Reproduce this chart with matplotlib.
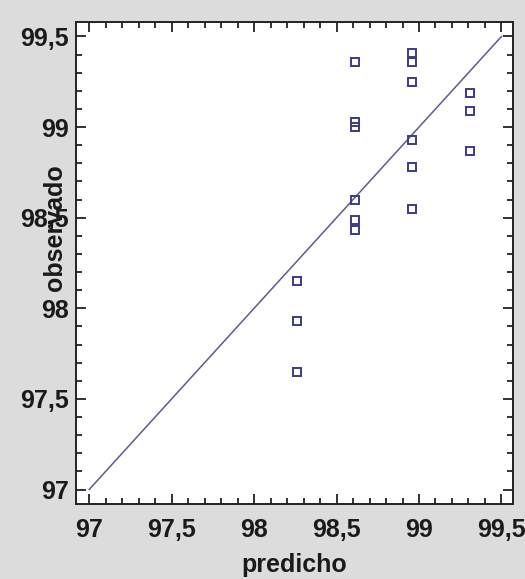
import matplotlib
matplotlib.use("Agg")
import matplotlib.pyplot as plt
from matplotlib.ticker import MultipleLocator, FuncFormatter

# Predicted vs observed values
predicho = [98.26, 98.26, 98.26,
            98.61, 98.61, 98.61, 98.61, 98.61, 98.61,
            98.96, 98.96, 98.96, 98.96, 98.96, 98.96,
            99.31, 99.31, 99.31]
observado = [98.15, 97.93, 97.65,
             99.36, 99.03, 99.00, 98.60, 98.49, 98.43,
             99.41, 99.36, 99.25, 98.93, 98.78, 98.55,
             99.19, 99.09, 98.87]

# Reference line y = x
linea = [97.0, 99.5]

plt.rcParams['font.family'] = ['Liberation Sans', 'DejaVu Sans']

fig = plt.figure(figsize=(5.25, 5.79), dpi=100)
fig.patch.set_facecolor('#dcdcdc')
ax = fig.add_axes([76/525, 75/579, 437/525, 482/579])
ax.set_facecolor('white')

ax.plot(linea, linea, color='#5c5c8e', lw=1.1, zorder=2)
ax.plot(predicho, observado, ls='none', marker='s', ms=5.8,
        mfc='none', mec='#3b3b8c', mew=1.4, zorder=3)

ax.set_xlim(96.92, 99.57)
ax.set_ylim(96.92, 99.58)

for a in (ax.xaxis, ax.yaxis):
    a.set_major_locator(MultipleLocator(0.5))
    a.set_minor_locator(MultipleLocator(0.1))
    a.set_major_formatter(FuncFormatter(
        lambda v, p: ('%g' % round(v, 1)).replace('.', ',')))

ax.tick_params(which='both', direction='in', top=True, right=True,
               width=1.3, color='#222222')
ax.tick_params(which='major', length=7)
ax.tick_params(which='minor', length=4)
ax.tick_params(axis='x', which='major', pad=10, labelsize=18)
ax.tick_params(axis='y', which='major', pad=5, labelsize=18)
for lbl in ax.get_xticklabels() + ax.get_yticklabels():
    lbl.set_fontweight('bold')
    lbl.set_color('#1a1a1a')

for s in ax.spines.values():
    s.set_linewidth(1.4)
    s.set_color('#222222')

ax.set_xlabel('predicho', fontsize=18, fontweight='bold', color='#1a1a1a',
              labelpad=8)
ax.set_ylabel('observado', fontsize=18, fontweight='bold', color='#1a1a1a')
ax.yaxis.set_label_coords(-0.02, 0.573)

fig.savefig('out.png', dpi=100, facecolor=fig.get_facecolor())
